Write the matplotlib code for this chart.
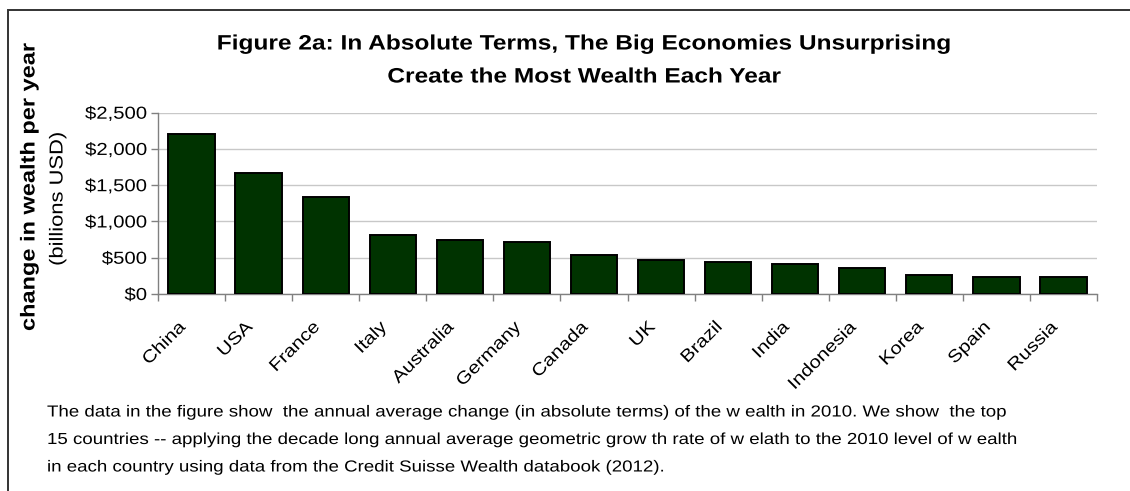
import matplotlib
matplotlib.use("Agg")
import matplotlib.pyplot as plt
from matplotlib.patches import Rectangle
from matplotlib.patheffects import AbstractPathEffect
from matplotlib.transforms import Affine2D
import numpy as np

plt.rcParams['font.family'] = ['Liberation Sans', 'DejaVu Sans']

countries = ["China", "USA", "France", "Italy", "Australia", "Germany", "Canada",
             "UK", "Brazil", "India", "Indonesia", "Korea", "Spain", "Russia"]
values = [2205, 1670, 1335, 820, 745, 717, 540, 464, 441, 414, 363, 258, 234, 234]
yticks = [0, 500, 1000, 1500, 2000, 2500]
ytick_labels = ["$0", "$500", "$1,000", "$1,500", "$2,000", "$2,500"]

title_lines = ["Figure 2a: In Absolute Terms, The Big Economies Unsurprising",
               "Create the Most Wealth Each Year"]
ylabel_bold = "change in wealth per year"
ylabel_sub = "(billions USD)"
caption = ["The data in the figure show  the annual average change (in absolute terms) of the w ealth in 2010. We show  the top",
           "15 countries -- applying the decade long annual average geometric grow th rate of w elath to the 2010 level of w ealth",
           "in each country using data from the Credit Suisse Wealth databook (2012)."]


class StretchX(AbstractPathEffect):
    """Widen glyphs along the text direction (mimics the wide GDI text spacing)."""
    def __init__(self, sx, anchor=0.0):
        super().__init__()
        self.sx = sx
        self.anchor = anchor

    def draw_path(self, renderer, gc, tpath, affine, rgbFace=None):
        v = tpath.vertices
        if len(v):
            x0 = v[:, 0].min()
            x1 = v[:, 0].max()
            a = x0 + self.anchor * (x1 - x0)
        else:
            a = 0.0
        pre = Affine2D().translate(-a, 0).scale(self.sx, 1.0).translate(a, 0)
        renderer.draw_path(gc, tpath, pre + affine, rgbFace)


W, H = 1130, 491
fig = plt.figure(figsize=(W / 100, H / 100), dpi=100)
fig.patch.set_facecolor("white")

# outer frame (right/bottom edges run off the image)
fig.patches.append(Rectangle((8 / W, -0.1), 1.2, 1 - 9.5 / H + 0.1, transform=fig.transFigure,
                             fill=False, edgecolor="#333333", linewidth=1.4))

ax = fig.add_axes([158 / W, 1 - 294 / H, (1097 - 158) / W, (294 - 112.7) / H])
x = np.arange(len(countries))
ax.bar(x, values, width=0.69, color="#003300", edgecolor="black", linewidth=1.4, zorder=3)
ax.set_xlim(-0.5, len(countries) - 0.5)
ax.set_ylim(0, 2500)
ax.set_yticks(yticks, ytick_labels)
ax.grid(axis="y", color="#c8c8c8", linewidth=1.0, zorder=0)
ax.set_axisbelow(True)
for s in ["top", "right"]:
    ax.spines[s].set_visible(False)
for s in ["left", "bottom"]:
    ax.spines[s].set_color("#808080")
    ax.spines[s].set_linewidth(1.0)

ax.set_xticks(np.arange(-0.5, len(countries) + 0.5, 1.0))
ax.set_xticklabels([])
ax.tick_params(axis="x", direction="out", length=5, color="#808080", width=1.0)
ax.tick_params(axis="y", direction="out", length=5, color="#808080", width=1.0,
               labelsize=12.5, pad=3)
for lab in ax.get_yticklabels():
    lab.set_path_effects([StretchX(1.17, anchor=1.0)])

for i, c in enumerate(countries):
    ax.annotate(c, xy=(i, 0), xycoords=("data", "axes fraction"),
                xytext=(-6, -22), textcoords="offset points",
                rotation=45, ha="right", va="center", rotation_mode="anchor",
                fontsize=12.5, path_effects=[StretchX(1.17, anchor=1.0)])

for k, line in enumerate(title_lines):
    fig.text(585 / W, 1 - (44 + 33 * k) / H, line, ha="center", va="center",
             fontsize=15, fontweight="bold", path_effects=[StretchX(1.175, anchor=0.5)])

fig.text(29 / W, 1 - 187 / H, ylabel_bold, rotation=90, ha="center", va="center",
         fontsize=14.5, fontweight="bold", path_effects=[StretchX(1.17, anchor=0.5)])
fig.text(58 / W, 1 - 199 / H, ylabel_sub, rotation=90, ha="center", va="center",
         fontsize=13.5, path_effects=[StretchX(1.17, anchor=0.5)])

for k, line in enumerate(caption):
    fig.text(47 / W, 1 - (412 + 27.5 * k) / H, line, ha="left", va="center", fontsize=11.5,
             path_effects=[StretchX(1.17, anchor=0.0)])

fig.savefig("out.png", dpi=100, facecolor="white")
